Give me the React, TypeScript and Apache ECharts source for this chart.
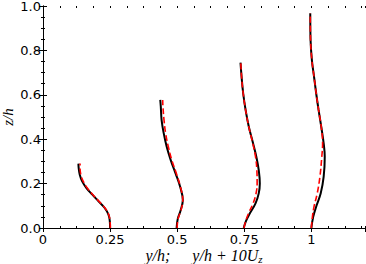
import React, { useEffect, useRef } from "react";
import * as echarts from "echarts";

// Profile 1 (y/h = 0.25)
const z1 = [0, 0.03, 0.06, 0.09, 0.12, 0.15, 0.18, 0.21, 0.24, 0.27, 0.29];
const black1 = [0.25, 0.249, 0.244, 0.23, 0.207, 0.184, 0.162, 0.146, 0.137, 0.133, 0.132];
const red1 = [0.251, 0.25, 0.245, 0.231, 0.209, 0.186, 0.165, 0.15, 0.141, 0.138, 0.138];

// Profile 2 (y/h = 0.5)
const z2 = [0, 0.04, 0.08, 0.126, 0.186, 0.246, 0.306, 0.366, 0.426, 0.486, 0.547, 0.577];
const black2 = [0.498, 0.502, 0.513, 0.521, 0.511, 0.494, 0.476, 0.461, 0.45, 0.442, 0.439, 0.437];
const red2 = [0.5, 0.503, 0.514, 0.521, 0.512, 0.497, 0.48, 0.467, 0.457, 0.451, 0.447, 0.446];

// Profile 3 (y/h = 0.75)
const z3 = [0, 0.03, 0.066, 0.111, 0.156, 0.201, 0.261, 0.321, 0.381, 0.456, 0.532, 0.607, 0.682, 0.745];
const black3 = [0.748, 0.756, 0.771, 0.792, 0.804, 0.808, 0.804, 0.795, 0.783, 0.767, 0.755, 0.746, 0.74, 0.736];
const red3 = [0.749, 0.755, 0.766, 0.783, 0.794, 0.798, 0.797, 0.792, 0.782, 0.767, 0.755, 0.746, 0.74, 0.737];

// Profile 4 (y/h = 1)
const z4 = [0, 0.05, 0.096, 0.156, 0.231, 0.321, 0.381, 0.456, 0.532, 0.607, 0.682, 0.757, 0.85, 0.967];
const black4 = [1.0, 1.007, 1.018, 1.035, 1.046, 1.05, 1.046, 1.037, 1.027, 1.018, 1.01, 1.002, 0.997, 0.996];
const red4 = [1.0, 1.004, 1.01, 1.022, 1.032, 1.039, 1.042, 1.037, 1.027, 1.018, 1.01, 1.002, 0.997, 0.996];

const xTicks = [0, 0.25, 0.5, 0.75, 1];
const yTicks = [0, 0.2, 0.4, 0.6, 0.8, 1.0];

const profiles = [
  { z: z1, black: black1, red: red1 },
  { z: z2, black: black2, red: red2 },
  { z: z3, black: black3, red: red3 },
  { z: z4, black: black4, red: red4 },
];

const tickFont = { fontFamily: "DejaVu Sans", fontSize: 13, lineHeight: 12, color: "#000" };
const mathFont = { fontFamily: "Liberation Serif", fontStyle: "italic" as const, color: "#000" };

export default function App() {
  const ref = useRef<HTMLDivElement>(null);
  useEffect(() => {
    if (!ref.current) return;
    const chart = echarts.init(ref.current, undefined, { renderer: "svg" });
    const series: any[] = [];
    profiles.forEach((p) => {
      series.push({
        type: "line",
        xAxisIndex: 0,
        yAxisIndex: 0,
        data: p.z.map((z, i) => [p.black[i], z]),
        smooth: 0.4,
        symbol: "none",
        lineStyle: { color: "#000", width: 2 },
      });
    });
    profiles.forEach((p) => {
      series.push({
        type: "line",
        xAxisIndex: 0,
        yAxisIndex: 0,
        data: p.z.map((z, i) => [p.red[i], z]),
        smooth: 0.4,
        symbol: "none",
        lineStyle: { color: "#ff0000", width: 1.6, type: [6, 3] },
      });
    });
    const lineStyle = { color: "#000", width: 1 };
    chart.setOption({
      animation: false,
      backgroundColor: "#fff",
      grid: { left: 43, right: 1, top: 6, bottom: 36, containLabel: false, outerBoundsMode: "none" },
      xAxis: [
        {
          type: "value",
          position: "bottom",
          min: 0,
          max: 1.2,
          interval: 0.25,
          axisLine: { show: true, lineStyle },
          axisTick: { show: true, inside: true, length: 4, lineStyle },
          splitLine: { show: false },
          axisLabel: {
            ...tickFont,
            margin: 5,
            showMaxLabel: false,
            formatter: (v: number) => (xTicks.includes(v) ? String(v) : ""),
          },
          name: "{a|y/h;}{b|y/h + 10U}{s|z}",
          nameLocation: "middle",
          nameGap: 18,
          nameMoveOverlap: false,
          nameTextStyle: {
            rich: {
              a: { ...mathFont, fontSize: 16, lineHeight: 18 },
              b: { ...mathFont, fontSize: 16, lineHeight: 18, padding: [0, 0, 0, 22] },
              s: { ...mathFont, fontSize: 11, lineHeight: 11, verticalAlign: "bottom" },
            },
          },
        },
        {
          type: "value",
          position: "top",
          min: 0,
          max: 1.2,
          interval: 0.25,
          axisLine: { show: true, lineStyle },
          axisTick: { show: true, inside: true, length: 4, lineStyle },
          splitLine: { show: false },
          axisLabel: { show: false },
        },
        {
          type: "value",
          position: "bottom",
          min: 0,
          max: 1.2,
          interval: 0.0625,
          axisLine: { show: false },
          axisTick: { show: true, inside: true, length: 2, lineStyle },
          splitLine: { show: false },
          axisLabel: { show: false },
        },
        {
          type: "value",
          position: "top",
          min: 0,
          max: 1.2,
          interval: 0.0625,
          axisLine: { show: false },
          axisTick: { show: true, inside: true, length: 2, lineStyle },
          splitLine: { show: false },
          axisLabel: { show: false },
        },
      ],
      yAxis: [
        {
          type: "value",
          position: "left",
          min: 0,
          max: 1,
          interval: 0.2,
          axisLine: { show: true, lineStyle },
          axisTick: { show: true, inside: true, length: 4, lineStyle },
          minorTick: { show: true, splitNumber: 4, length: 2, lineStyle },
          splitLine: { show: false },
          axisLabel: {
            ...tickFont,
            margin: 2,
            formatter: (v: number) => (yTicks.some((t) => Math.abs(t - v) < 1e-9) ? v.toFixed(1) : ""),
          },
          name: "z/h",
          nameLocation: "middle",
          nameGap: 28,
          nameMoveOverlap: false,
          nameTextStyle: { ...mathFont, fontSize: 15, lineHeight: 14 },
        },
        {
          type: "value",
          position: "right",
          min: 0,
          max: 1,
          interval: 0.2,
          axisLine: { show: true, lineStyle },
          axisTick: { show: true, inside: true, length: 4, lineStyle },
          minorTick: { show: true, splitNumber: 4, length: 2, lineStyle },
          splitLine: { show: false },
          axisLabel: { show: false },
        },
      ],
      series,
    });
    return () => chart.dispose();
  }, []);
  return (
    <div
      ref={ref}
      style={{ position: "absolute", left: 0, top: 0, width: 366, height: 264 }}
    />
  );
}
